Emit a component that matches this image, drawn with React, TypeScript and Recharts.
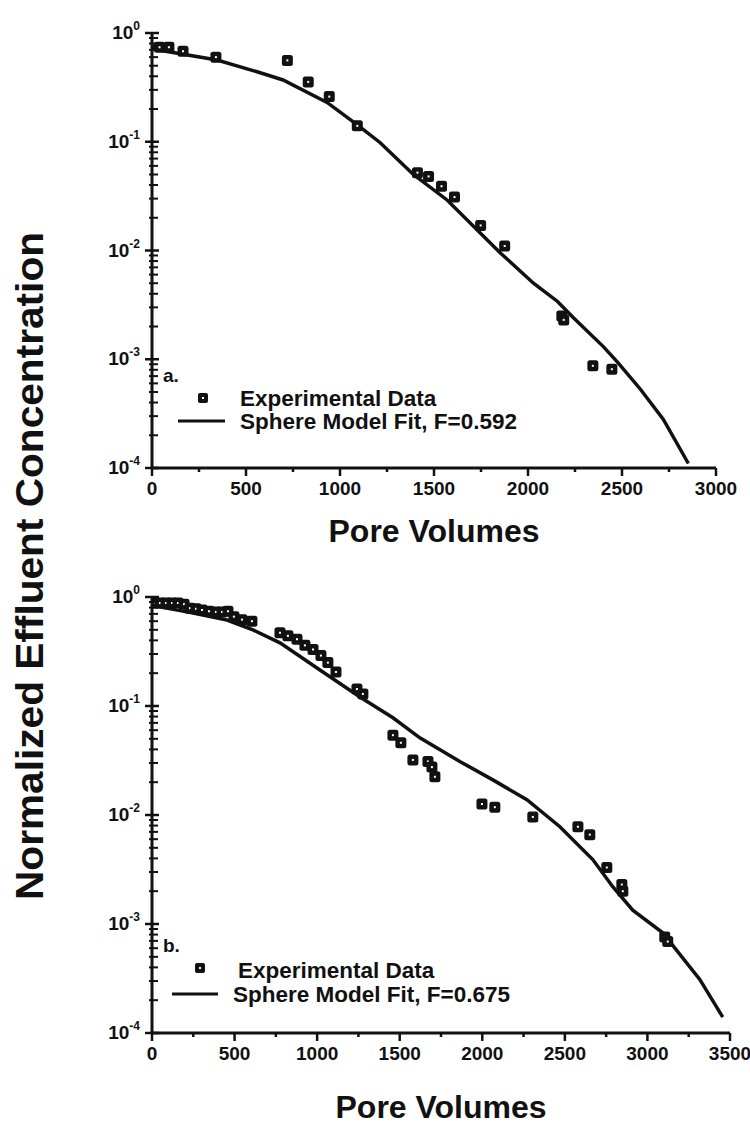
import React from 'react';
import { ScatterChart, Scatter, XAxis, YAxis } from 'recharts';

// Panel a: experimental points and sphere model fit (F = 0.592)
const expAPv = [40, 90, 165, 340, 720, 831, 943, 1092, 1412, 1471, 1540, 1609, 1748, 1876, 2180, 2190, 2345, 2446];
const expAC = [0.74, 0.74, 0.68, 0.6, 0.56, 0.355, 0.26, 0.14, 0.052, 0.048, 0.039, 0.031, 0.017, 0.011, 0.0025, 0.0023, 0.00087, 0.00081];
const fitAPv = [0, 27, 346, 559, 697, 931, 1092, 1214, 1390, 1571, 1853, 2029, 2157, 2243, 2402, 2476, 2598, 2720, 2853];
const fitAC = [0.76, 0.7, 0.565, 0.44, 0.37, 0.23, 0.143, 0.098, 0.05, 0.029, 0.0095, 0.005, 0.0034, 0.0024, 0.0013, 0.00094, 0.00053, 0.00028, 0.00011];

// Panel b: experimental points and sphere model fit (F = 0.675)
const expBPv = [18, 48, 85, 121, 157, 194, 230, 266, 303, 345, 387, 424, 460, 496, 545, 605, 775, 823, 878, 926, 975, 1023, 1065, 1114, 1241, 1277, 1459, 1507, 1580, 1671, 1695, 1713, 1998, 2076, 2306, 2579, 2651, 2754, 2845, 2851, 3105, 3123];
const expBC = [0.88, 0.88, 0.88, 0.88, 0.88, 0.86, 0.79, 0.78, 0.76, 0.74, 0.73, 0.73, 0.74, 0.66, 0.62, 0.6, 0.47, 0.44, 0.41, 0.36, 0.33, 0.29, 0.25, 0.205, 0.143, 0.129, 0.054, 0.046, 0.032, 0.031, 0.0275, 0.0224, 0.0126, 0.0118, 0.0096, 0.0078, 0.0066, 0.0033, 0.0023, 0.002, 0.00076, 0.00069];
const fitBPv = [15, 48, 212, 454, 611, 775, 1017, 1259, 1459, 1622, 1864, 2064, 2270, 2470, 2669, 2790, 2911, 3093, 3317, 3456];
const fitBC = [0.95, 0.81, 0.73, 0.615, 0.5, 0.38, 0.214, 0.121, 0.078, 0.051, 0.031, 0.021, 0.0138, 0.0078, 0.0039, 0.0022, 0.00134, 0.00083, 0.00031, 0.00014];

const xTicksA = [0, 250, 500, 750, 1000, 1250, 1500, 1750, 2000, 2250, 2500, 2750, 3000];
const xTicksB = [0, 250, 500, 750, 1000, 1250, 1500, 1750, 2000, 2250, 2500, 2750, 3000, 3250, 3500];
const yDecades = [1e-4, 1e-3, 1e-2, 1e-1, 1];

const ink = '#111';
const font = '"Liberation Sans", Arial, Helvetica, sans-serif';

const zip = (xs: number[], ys: number[]) => xs.map((x, i) => ({ x, y: ys[i] }));

// minor log ticks (2..9 in each decade) plus the decades themselves
const yTicks: number[] = [];
yDecades.forEach((d, i) => {
  yTicks.push(d);
  if (i < yDecades.length - 1) for (let k = 2; k <= 9; k++) yTicks.push(+(d * k).toPrecision(3));
});

const XTick = (props: any) => {
  const { x, y, payload } = props;
  const v = payload.value;
  const major = v % 500 === 0;
  return (
    <g>
      <line x1={x} y1={y} x2={x} y2={y + (major ? 8 : 4)} stroke={ink} strokeWidth={2.5} />
      {major && (
        <text x={x} y={y + 27} textAnchor="middle" fontSize={19} fontWeight="bold" fontFamily={font} fill={ink}>
          {v}
        </text>
      )}
    </g>
  );
};

const YTick = (props: any) => {
  const { x, y, payload } = props;
  const lg = Math.log10(payload.value);
  const e = Math.round(lg);
  const major = Math.abs(lg - e) < 1e-6;
  if (!major) return <line x1={x - 3} y1={y} x2={x + 6} y2={y} stroke={ink} strokeWidth={2} />;
  return (
    <g>
      <line x1={x - 7} y1={y} x2={x + 7} y2={y} stroke={ink} strokeWidth={2.5} />
      <text x={x - 12} y={y + 6} textAnchor="end" fontSize={19} fontWeight="bold" fontFamily={font} fill={ink}>
        <tspan>10</tspan>
        <tspan dy={-9} fontSize={12}>{e}</tspan>
      </text>
    </g>
  );
};

const Square = (props: any) => {
  const { cx, cy } = props;
  return (
    <g>
      <rect x={cx - 5.5} y={cy - 5.5} width={11} height={11} rx={2.5} fill={ink} />
      <rect x={cx - 1} y={cy - 1} width={2} height={2} fill="#fff" />
    </g>
  );
};

const NoDot = () => <g />;

function Panel({ width, height, margin, xMax, xTicks, exp, fit }: any) {
  return (
    <ScatterChart width={width} height={height} margin={margin}>
      <XAxis
        type="number"
        dataKey="x"
        domain={[0, xMax]}
        ticks={xTicks}
        interval={0}
        allowDataOverflow
        height={40}
        tickSize={0}
        tickMargin={0}
        tickLine={false}
        tick={XTick}
        axisLine={{ stroke: ink, strokeWidth: 3 }}
      />
      <YAxis
        type="number"
        dataKey="y"
        scale="log"
        domain={[1e-4, 1]}
        ticks={yTicks}
        interval={0}
        allowDataOverflow
        width={60}
        tickSize={0}
        tickMargin={0}
        tickLine={false}
        tick={YTick}
        axisLine={{ stroke: ink, strokeWidth: 3 }}
      />
      <Scatter data={fit} shape={NoDot} line={{ stroke: ink, strokeWidth: 3.5 }} lineType="joint" isAnimationActive={false} />
      <Scatter data={exp} shape={Square} isAnimationActive={false} />
    </ScatterChart>
  );
}

export default function App() {
  const txt = { fontFamily: font, fill: ink, fontWeight: 'bold' as const };
  return (
    <div style={{ position: 'absolute', left: 0, top: 0, width: 750, height: 1137, background: '#fff' }}>
      <div style={{ position: 'absolute', left: 0, top: 0 }}>
        <Panel
          width={750}
          height={560}
          margin={{ top: 33, right: 34, bottom: 52, left: 92 }}
          xMax={3000}
          xTicks={xTicksA}
          exp={zip(expAPv, expAC)}
          fit={zip(fitAPv, fitAC)}
        />
      </div>
      <div style={{ position: 'absolute', left: 0, top: 560 }}>
        <Panel
          width={750}
          height={577}
          margin={{ top: 37, right: 20, bottom: 64, left: 92 }}
          xMax={3500}
          xTicks={xTicksB}
          exp={zip(expBPv, expBC)}
          fit={zip(fitBPv, fitBC)}
        />
      </div>
      <svg width={750} height={1137} style={{ position: 'absolute', left: 0, top: 0, pointerEvents: 'none' }}>
        <text
          transform="translate(43,566) rotate(-90)"
          textAnchor="middle"
          fontSize={38}
          textLength={668}
          lengthAdjust="spacingAndGlyphs"
          {...txt}
        >
          Normalized Effluent Concentration
        </text>
        <text x={434} y={542} textAnchor="middle" fontSize={32} {...txt}>Pore Volumes</text>
        <text x={441} y={1118} textAnchor="middle" fontSize={32} {...txt}>Pore Volumes</text>

        <text x={163} y={382} fontSize={19} {...txt}>a.</text>
        <rect x={198} y={393} width={10} height={10} rx={2} fill={ink} />
        <rect x={202} y={397} width={2} height={2} fill="#fff" />
        <text x={240} y={406} fontSize={22.5} {...txt}>Experimental Data</text>
        <line x1={178} y1={421} x2={225} y2={421} stroke={ink} strokeWidth={3} />
        <text x={240} y={429} fontSize={22.5} {...txt}>Sphere Model Fit, F=0.592</text>

        <text x={163} y={952} fontSize={19} {...txt}>b.</text>
        <rect x={195} y={963} width={10} height={10} rx={2} fill={ink} />
        <rect x={199} y={967} width={2} height={2} fill="#fff" />
        <text x={238} y={978} fontSize={22.5} {...txt}>Experimental Data</text>
        <line x1={172} y1={994} x2={218} y2={994} stroke={ink} strokeWidth={3} />
        <text x={233} y={1002} fontSize={22.5} {...txt}>Sphere Model Fit, F=0.675</text>
      </svg>
    </div>
  );
}
